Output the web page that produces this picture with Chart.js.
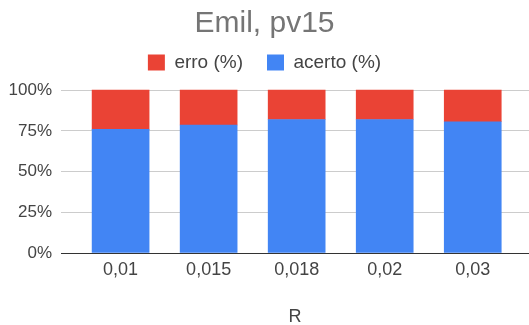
<!DOCTYPE html>
<html>
<head>
<meta charset="utf-8">
<script src="https://cdn.jsdelivr.net/npm/chart.js@4/dist/chart.umd.min.js"></script>
<style>
  body { margin: 0; background: #fff; }
  canvas { display: block; }
</style>
</head>
<body>
<canvas id="chart" width="529" height="325"></canvas>
<script>
// values (percent)
const rLabels = ["0,01", "0,015", "0,018", "0,02", "0,03"];
const acerto = [75.9, 78.6, 82, 82, 80.6];
const erro = [24.1, 21.4, 18, 18, 19.4];
const yTicks = [0, 25, 50, 75, 100];

const font = "'Liberation Sans', Arial, sans-serif";

const toPoints = (arr) => arr.map((v, i) => ({ x: i, y: v }));

new Chart(document.getElementById("chart"), {
    type: "bar",
    data: {
        datasets: [
            {
                label: "acerto (%)",
                data: toPoints(acerto),
                backgroundColor: "#4285F4",
                barThickness: 57,
            },
            {
                label: "erro (%)",
                data: toPoints(erro),
                backgroundColor: "#EA4335",
                barThickness: 57,
            },
        ],
    },
    options: {
        responsive: false,
        animation: false,
        devicePixelRatio: 1,
        layout: { padding: 0 },
        plugins: {
            title: {
                display: true,
                text: "Emil, pv15",
                color: "#757575",
                font: { family: font, size: 30, weight: "normal" },
                padding: { top: 6, bottom: -13 },
            },
            legend: {
                reverse: true,
                labels: {
                    color: "#444",
                    font: { family: font, size: 19 },
                    boxWidth: 17,
                    boxHeight: 16,
                    padding: 24,
                },
            },
            tooltip: { enabled: false },
        },
        scales: {
            x: {
                type: "linear",
                stacked: true,
                offset: false,
                min: -0.677,
                max: 4.639,
                grid: { display: false, drawTicks: false, offset: false },
                border: { display: true, color: "#333", width: 1 },
                afterBuildTicks: (axis) => {
                    axis.ticks = rLabels.map((_, i) => ({ value: i }));
                },
                afterFit: (axis) => {
                    axis.height = 72;
                },
                ticks: {
                    color: "#444",
                    font: { family: font, size: 18 },
                    padding: 6,
                    maxRotation: 0,
                    callback: (v) => rLabels[v],
                },
                title: {
                    display: true,
                    text: "R",
                    color: "#444",
                    font: { family: font, size: 18 },
                    padding: { top: 22, bottom: -3 },
                },
            },
            y: {
                stacked: true,
                min: 0,
                max: 105,
                grid: { color: "#cccccc", drawTicks: false },
                border: { display: false },
                afterBuildTicks: (axis) => {
                    axis.ticks = yTicks.map((v) => ({ value: v }));
                },
                afterFit: (axis) => {
                    axis.width = 61;
                },
                ticks: {
                    color: "#444",
                    font: { family: font, size: 17 },
                    padding: 9,
                    callback: (v) => v + "%",
                },
            },
        },
    },
});
</script>
</body>
</html>
